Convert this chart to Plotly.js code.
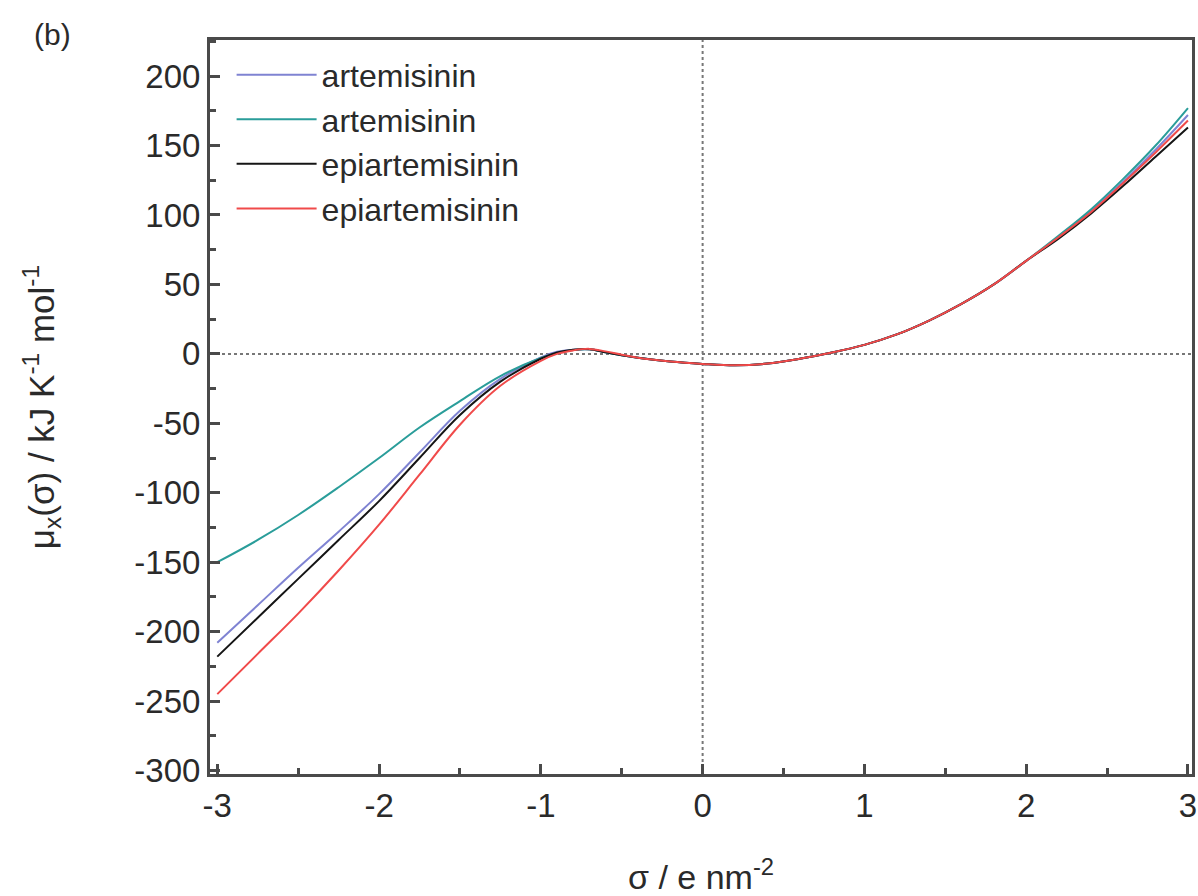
<!DOCTYPE html>
<html>
<head>
<meta charset="utf-8">
<script src="https://cdn.plot.ly/plotly-3.0.1.min.js"></script>
<style>html,body{margin:0;padding:0;background:#fff;}#chart{width:1198px;height:896px;}</style>
</head>
<body>
<div id="chart"></div>
<script>
// sigma / e nm^-2
const sigma = [-3, -2.75, -2.5, -2.25, -2, -1.75, -1.5, -1.25, -1, -0.9, -0.8, -0.7, -0.6, -0.5, -0.4, -0.2, 0, 0.2, 0.4, 0.6, 0.8, 1.0, 1.2, 1.4, 1.6, 1.8, 2.0, 2.2, 2.4, 2.6, 2.8, 3.0];
const seriesNames = ["artemisinin", "artemisinin", "epiartemisinin", "epiartemisinin"];
const artemisininA = [-208, -181, -154, -128, -101, -71, -41, -18, -2.5, 1.5, 3, 3.3, 1.2, -1, -2.8, -5.5, -7.2, -8.2, -7, -3.5, 1, 6.5, 14, 24, 36, 50, 67, 84, 103, 124, 147, 172];
const artemisininB = [-150, -134, -116, -96, -75, -53, -34, -16, -3, 0.5, 2.8, 3.3, 1.2, -1, -2.8, -5.5, -7.2, -8.2, -7, -3.5, 1, 6.5, 14, 24, 36, 50, 67, 85, 104, 126, 150, 177];
const epiartemisininA = [-218, -190, -162, -134, -106, -75, -44, -20, -3.5, 1, 3, 3.3, 1.2, -1, -2.8, -5.5, -7.2, -8.2, -7, -3.5, 1, 6.5, 14, 24, 36, 50, 67, 83, 101, 121, 142, 163];
const epiartemisininB = [-245, -216, -187, -156, -123, -87, -51, -23, -5, 0, 2.5, 3.6, 1.8, -0.6, -2.8, -5.5, -7.2, -8.2, -7, -3.5, 1, 6.5, 14, 24, 36, 50, 67, 84, 102, 123, 145, 168];
const xTickVals = [-3, -2, -1, 0, 1, 2, 3];
const yTickVals = [-300, -250, -200, -150, -100, -50, 0, 50, 100, 150, 200];

const colors = ["#7f83d2", "#2a9d9a", "#151515", "#f04a4a"];
const ys = [artemisininA, artemisininB, epiartemisininA, epiartemisininB];
const traces = ys.map((y, i) => ({
  x: sigma, y: y, type: "scatter", mode: "lines", name: seriesNames[i],
  line: {color: colors[i], width: 2, shape: "spline", smoothing: 1}
}));

const FONT = "Liberation Sans, Arial, sans-serif";
const axisCommon = {
  showline: true, linecolor: "#4a4a4a", linewidth: 3, mirror: true,
  ticks: "inside", tickcolor: "#4a4a4a", tickwidth: 3, ticklen: 10,
  showgrid: false, zeroline: false,
  tickfont: {family: FONT, size: 33, color: "#2a2a2a"}
};

const layout = {
  width: 1198, height: 896,
  margin: {l: 210, r: 6, t: 40, b: 122},
  paper_bgcolor: "#fff", plot_bgcolor: "#fff",
  showlegend: true,
  legend: {x: 0.022, y: 0.99, xanchor: "left", yanchor: "top", bgcolor: "rgba(0,0,0,0)",
    itemwidth: 80, tracegroupgap: 0,
    font: {family: FONT, size: 32, color: "#2a2a2a"}},
  xaxis: Object.assign({}, axisCommon, {
    range: [-3.045, 3.025], tickvals: xTickVals, ticktext: xTickVals.map(String),
    minor: {dtick: 0.5, tick0: 0, ticks: "inside", ticklen: 6, tickwidth: 3, tickcolor: "#4a4a4a"},
    title: {text: "σ / e nm<sup>-2</sup>", standoff: 48,
      font: {family: FONT, size: 34, color: "#2a2a2a"}}
  }),
  yaxis: Object.assign({}, axisCommon, {
    range: [-302.5, 226], tickvals: yTickVals, ticktext: yTickVals.map(String),
    minor: {dtick: 25, tick0: 0, ticks: "inside", ticklen: 6, tickwidth: 3, tickcolor: "#4a4a4a"},
    title: {text: "μ<sub>x</sub>(σ) / kJ K<sup>-1</sup> mol<sup>-1</sup>", standoff: 70,
      font: {family: FONT, size: 35, color: "#2a2a2a"}}
  }),
  shapes: [
    {type: "line", xref: "x", yref: "paper", x0: 0, x1: 0, y0: 0, y1: 1,
      line: {color: "#777", width: 2, dash: "dot"}, layer: "below"},
    {type: "line", xref: "paper", yref: "y", x0: 0, x1: 1, y0: 0, y1: 0,
      line: {color: "#777", width: 2, dash: "dot"}, layer: "below"}
  ],
  annotations: [
    {text: "(b)", xref: "paper", yref: "paper", x: -0.16, y: 1.007, xanchor: "center", yanchor: "middle",
      showarrow: false, font: {family: FONT, size: 30, color: "#2a2a2a"}}
  ]
};

Plotly.newPlot("chart", traces, layout, {displayModeBar: false, staticPlot: true});
</script>
</body>
</html>
